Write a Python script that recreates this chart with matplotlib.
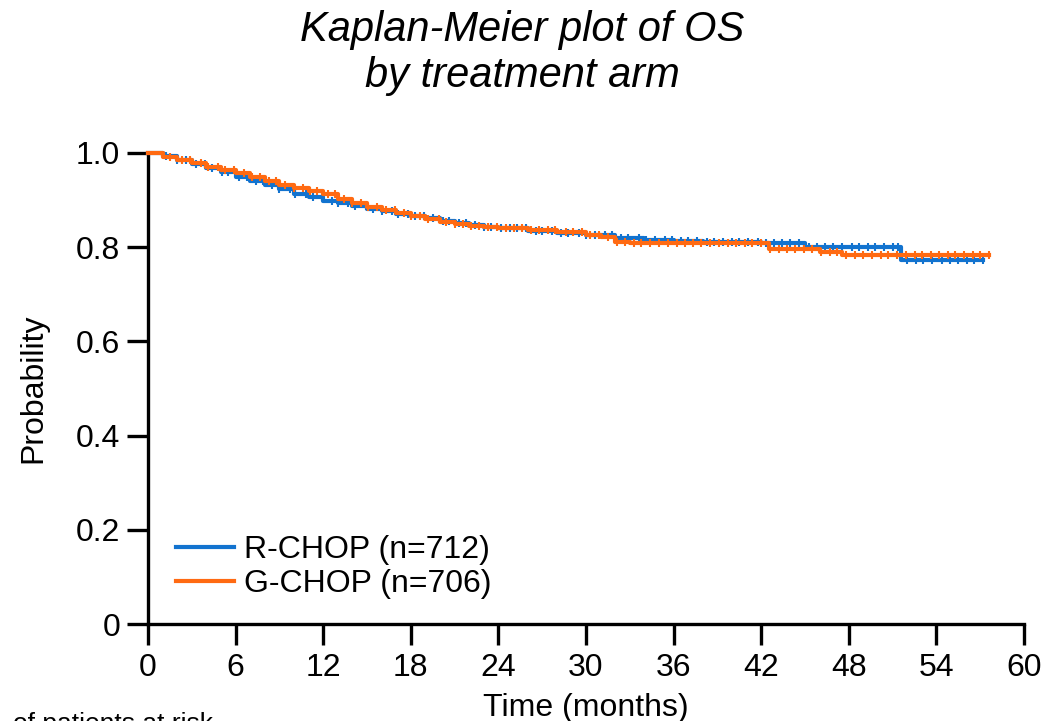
import numpy as np
import matplotlib
matplotlib.use("Agg")
import matplotlib.pyplot as plt

plt.rcParams["font.family"] = ["Liberation Sans", "DejaVu Sans"]

# Kaplan-Meier step points (time in months, survival probability)
R_TIME = [0, 1, 2, 3, 4, 5, 6, 7, 8, 9, 10, 11, 12, 13, 14, 15, 16, 17, 18,
          19, 20, 21, 22, 23, 24, 26, 28, 30, 32, 34, 36, 38, 40, 42, 44,
          45, 51.6, 57.2]
R_SURV = [1.000, 0.993, 0.985, 0.977, 0.969, 0.960, 0.950, 0.941, 0.932,
          0.923, 0.914, 0.906, 0.899, 0.893, 0.887, 0.881, 0.876, 0.871,
          0.866, 0.861, 0.856, 0.851, 0.847, 0.843, 0.840, 0.835, 0.830,
          0.826, 0.820, 0.816, 0.813, 0.811, 0.810, 0.809, 0.808, 0.801,
          0.773, 0.773]

G_TIME = [0, 1, 2, 3, 4, 5, 6, 7, 8, 9, 10, 11, 12, 13, 14, 15, 16, 17, 18,
          19, 20, 21, 22, 23, 24, 26, 28, 30, 31, 32, 33, 42.5, 46, 47.5, 57.6]
G_SURV = [1.000, 0.991, 0.986, 0.979, 0.971, 0.964, 0.957, 0.949, 0.941,
          0.933, 0.926, 0.919, 0.912, 0.902, 0.893, 0.885, 0.878, 0.872,
          0.866, 0.859, 0.854, 0.850, 0.846, 0.843, 0.841, 0.837, 0.832,
          0.826, 0.822, 0.812, 0.808, 0.797, 0.789, 0.783, 0.783]

# censoring times
R_CENS = [1.2, 2.0, 2.6, 3.3, 3.9, 4.4, 5.1, 5.5, 6.2, 6.8, 7.4, 7.9, 8.5,
          9.0, 9.7, 10.1, 10.8, 11.3, 11.9, 12.6, 13.0, 13.7, 14.2, 14.9,
          15.4, 16.0, 16.7, 17.1, 17.8, 18.3, 18.9, 19.5, 20.2, 20.6, 21.3,
          21.8, 22.4, 23.0, 23.5, 24.2, 24.8, 25.3, 25.9, 26.6, 27.0, 27.7,
          28.3, 28.8, 29.5, 30.0, 30.6, 31.3, 31.8, 32.4, 32.9, 33.6, 34.1,
          34.7, 35.4, 35.9, 36.5, 37.0, 37.6, 38.3, 38.8, 39.4, 40.0, 40.5,
          41.1, 41.8, 42.3, 42.9, 43.4, 44.0, 44.6, 45.3, 45.8, 46.4, 46.9,
          47.5, 48.2, 48.7, 49.3, 49.8, 50.4, 51.0, 51.4, 52.0, 52.6, 53.1,
          53.7, 54.4, 54.9, 55.5, 56.1, 56.6, 57.2]
G_CENS = [1.5, 2.3, 2.9, 3.6, 4.1, 4.8, 5.3, 5.9, 6.6, 7.1, 7.7, 8.3, 8.8,
          9.4, 10.0, 10.6, 11.1, 11.6, 12.3, 12.8, 13.4, 14.0, 14.6, 15.1,
          15.7, 16.3, 16.9, 17.5, 18.0, 18.6, 19.2, 19.9, 20.4, 21.0, 21.6,
          22.1, 22.7, 23.3, 23.9, 24.5, 25.1, 25.6, 26.2, 26.8, 27.4, 27.9,
          28.6, 29.1, 29.7, 30.3, 30.9, 31.5, 32.1, 32.7, 33.3, 33.8, 34.4,
          35.0, 35.6, 36.2, 36.8, 37.3, 37.9, 38.5, 39.1, 39.7, 40.3, 40.9,
          41.4, 42.0, 42.6, 43.2, 43.8, 44.3, 44.9, 45.5, 46.1, 46.7, 47.2,
          47.8, 48.4, 49.0, 49.6, 50.2, 50.7, 51.3, 51.9, 52.5, 53.0, 53.6,
          54.2, 54.8, 55.3, 55.9, 56.5, 57.0, 57.6]

LABELS = ["R-CHOP (n=712)", "G-CHOP (n=706)"]
COLORS = ["#1273CF", "#FF6A12"]
X_TICKS = [0, 6, 12, 18, 24, 30, 36, 42, 48, 54, 60]
Y_TICKS = [0, 0.2, 0.4, 0.6, 0.8, 1.0]
Y_TICKLABELS = ["0", "0.2", "0.4", "0.6", "0.8", "1.0"]

FS = 23


def surv_at(times, surv, t):
    idx = np.searchsorted(times, t, side="right") - 1
    return np.asarray(surv)[idx]


fig = plt.figure(figsize=(10.51, 7.21), dpi=100)
ax = fig.add_axes([148 / 1051, 97 / 721, 876 / 1051, 471 / 721])

series = [(R_TIME, R_SURV, R_CENS), (G_TIME, G_SURV, G_CENS)]
for i in [1, 0]:
    t, s, c = series[i]
    ax.step(t, s, where="post", color=COLORS[i], lw=3.0, label=LABELS[i],
            clip_on=False, zorder=3 + i)
    ax.plot(c, surv_at(t, s, c), ls="none", marker="|", ms=6, mew=1.5,
            color=COLORS[i], clip_on=False, zorder=3 + i)

ax.set_xlim(0, 60)
ax.set_ylim(0, 1.0)
ax.set_xticks(X_TICKS)
ax.set_yticks(Y_TICKS)
ax.set_yticklabels(Y_TICKLABELS)
ax.tick_params(axis="both", labelsize=FS, width=2.4, length=15, pad=5,
               direction="out")
ax.tick_params(axis="x", pad=6)
for side in ["top", "right"]:
    ax.spines[side].set_visible(False)
for side in ["left", "bottom"]:
    ax.spines[side].set_linewidth(2.4)

ax.set_xlabel("Time (months)", fontsize=FS, labelpad=7)
ax.set_ylabel("Probability", fontsize=FS, labelpad=20)

handles, labels = ax.get_legend_handles_labels()
order = [labels.index(l) for l in LABELS]
ax.legend([handles[k] for k in order], [labels[k] for k in order],
          loc="lower left", bbox_to_anchor=(0.004, 0.0), frameon=False,
          fontsize=FS, handlelength=1.8, handletextpad=0.3, labelspacing=0.12,
          borderaxespad=0.38, borderpad=0.4)

fig.text(0.497, 0.958, "Kaplan-Meier plot of OS", ha="center", va="center",
         fontsize=30, style="italic")
fig.text(0.497, 0.895, "by treatment arm", ha="center", va="center",
         fontsize=30, style="italic")
fig.text(0.012, 0.012, "of patients at risk", ha="left", va="top",
         fontsize=19)

fig.savefig("out.png", dpi=100)
